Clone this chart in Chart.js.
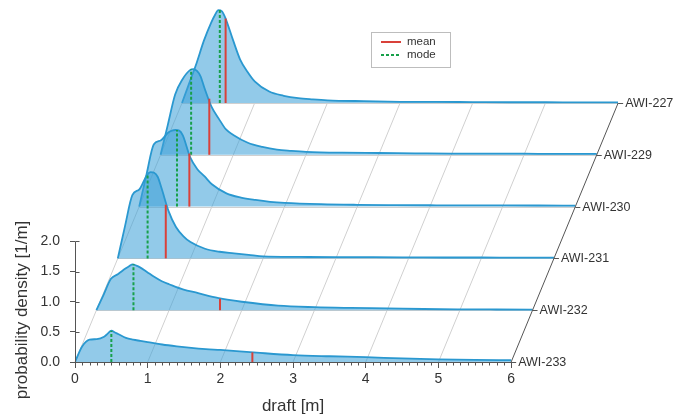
<!DOCTYPE html>
<html>
<head>
<meta charset="utf-8">
<title>Draft distributions</title>
<script src="https://cdn.jsdelivr.net/npm/chart.js@4.4.1/dist/chart.umd.min.js"></script>
<style>
  html, body { margin: 0; padding: 0; background: #fff; }
  #wrap { width: 673px; height: 420px; position: relative; }
</style>
</head>
<body>
<div id="wrap"><canvas id="draftChart"></canvas></div>
<script>
// draft grid [m] shared by all moorings
const DRAFT = [0, 0.1, 0.2, 0.3, 0.4, 0.45, 0.5, 0.55, 0.6, 0.7, 0.8, 0.9, 1.0, 1.2, 1.4, 1.6, 1.8, 2.0, 2.5, 3.0, 3.5, 4.0, 4.5, 5.0, 5.5, 6.0];

// probability density [1/m], front (AWI-233) to back (AWI-227)
const awi233 = [0, 0.26, 0.37, 0.38, 0.42, 0.47, 0.52, 0.49, 0.46, 0.40, 0.37, 0.35, 0.33, 0.29, 0.26, 0.235, 0.215, 0.20, 0.155, 0.115, 0.095, 0.08, 0.06, 0.045, 0.035, 0.03];
const awi232 = [0, 0.26, 0.52, 0.60, 0.69, 0.73, 0.76, 0.74, 0.71, 0.63, 0.55, 0.48, 0.43, 0.34, 0.285, 0.22, 0.175, 0.14, 0.075, 0.05, 0.038, 0.03, 0.02, 0.015, 0.012, 0.01];
const awi231 = [0, 0.54, 1.05, 1.15, 1.38, 1.43, 1.42, 1.35, 1.17, 0.78, 0.52, 0.37, 0.27, 0.16, 0.11, 0.085, 0.06, 0.035, 0.025, 0.02, 0.02, 0.018, 0.015, 0.015, 0.012, 0.012];
const awi230 = [0, 0.53, 1.03, 1.10, 1.23, 1.26, 1.27, 1.26, 1.18, 0.82, 0.62, 0.50, 0.37, 0.22, 0.15, 0.11, 0.08, 0.062, 0.04, 0.03, 0.025, 0.022, 0.02, 0.02, 0.018, 0.015];
const awi229 = [0, 0.50, 1.00, 1.25, 1.40, 1.42, 1.39, 1.30, 1.12, 0.80, 0.60, 0.42, 0.33, 0.20, 0.13, 0.085, 0.065, 0.05, 0.035, 0.03, 0.025, 0.02, 0.02, 0.018, 0.015, 0.015];
const awi227 = [0, 0.33, 0.66, 1.03, 1.33, 1.45, 1.54, 1.52, 1.40, 1.05, 0.72, 0.52, 0.36, 0.19, 0.12, 0.08, 0.06, 0.045, 0.03, 0.02, 0.018, 0.015, 0.012, 0.012, 0.01, 0.01];

const SERIES_NAMES = ['AWI-233', 'AWI-232', 'AWI-231', 'AWI-230', 'AWI-229', 'AWI-227'];
const SERIES_VALUES = [awi233, awi232, awi231, awi230, awi229, awi227];

// mean / mode draft [m] and the density where the marker line stops
const MEAN = [2.44, 1.70, 0.66, 0.69, 0.67, 0.60];
const MEAN_TOP = [0.16, 0.19, 0.89, 0.88, 0.93, 1.40];
const MODE = [0.50, 0.51, 0.41, 0.52, 0.42, 0.52];
const MODE_TOP = [0.52, 0.76, 1.39, 1.27, 1.42, 1.55];

const Y_TICKS = [0, 0.5, 1.0, 1.5, 2.0];
const X_TICKS = [0, 1, 2, 3, 4, 5, 6];

// oblique shift between consecutive moorings, in axis units
const DEPTH_DX = 0.2944;
const DEPTH_DY = 0.859;
const X_MAX = 7.47;
const Y_MAX = 5.92;

const FONT = '"Liberation Sans", Arial, sans-serif';
const FILL = 'rgba(60,160,215,0.56)';
const EDGE = '#2a98d0';
const RED = '#d9413a';
const GREEN = '#17a04a';

const datasets = [];
SERIES_VALUES.forEach((vals, k) => {
  const base = k * DEPTH_DY;
  const shift = k * DEPTH_DX;
  datasets.push({
    label: SERIES_NAMES[k],
    data: DRAFT.map((d, i) => ({ x: d + shift, y: vals[i] + base })),
    fill: { value: base },
    backgroundColor: FILL,
    borderColor: EDGE,
    borderWidth: 1.8,
    pointRadius: 0,
    cubicInterpolationMode: 'monotone',
    order: 10 * k + 5
  });
  datasets.push({
    label: 'mean',
    data: [{ x: MEAN[k] + shift, y: base }, { x: MEAN[k] + shift, y: MEAN_TOP[k] + base }],
    borderColor: RED,
    borderWidth: 2,
    pointRadius: 0,
    fill: false,
    order: 10 * k
  });
  datasets.push({
    label: 'mode',
    data: [{ x: MODE[k] + shift, y: base }, { x: MODE[k] + shift, y: MODE_TOP[k] + base }],
    borderColor: GREEN,
    borderWidth: 2,
    borderDash: [3, 2],
    pointRadius: 0,
    fill: false,
    order: 10 * k
  });
});

const last = SERIES_NAMES.length - 1;

const waterfallDecor = {
  id: 'waterfallDecor',
  beforeDatasetsDraw(chart) {
    const { ctx, scales: { x, y } } = chart;
    ctx.save();
    ctx.lineWidth = 1;
    ctx.strokeStyle = '#d0d0d0';
    // oblique grid lines
    for (let d = 0; d < 6; d++) {
      ctx.beginPath();
      ctx.moveTo(x.getPixelForValue(d), y.getPixelForValue(0));
      ctx.lineTo(x.getPixelForValue(d + last * DEPTH_DX), y.getPixelForValue(last * DEPTH_DY));
      ctx.stroke();
    }
    // baselines of the back panels
    for (let k = 1; k <= last; k++) {
      const py = Math.round(y.getPixelForValue(k * DEPTH_DY)) + 0.5;
      ctx.beginPath();
      ctx.moveTo(x.getPixelForValue(k * DEPTH_DX), py);
      ctx.lineTo(x.getPixelForValue(6 + k * DEPTH_DX), py);
      ctx.stroke();
    }
    ctx.restore();
  },
  afterDatasetsDraw(chart) {
    const { ctx, scales: { x, y } } = chart;
    ctx.save();
    ctx.strokeStyle = '#555';
    ctx.lineWidth = 1;
    const y0 = Math.round(y.getPixelForValue(0)) + 0.5;
    const x0 = Math.round(x.getPixelForValue(0)) + 0.5;

    // x axis line + minor ticks
    ctx.beginPath();
    ctx.moveTo(x0, y0);
    ctx.lineTo(x.getPixelForValue(6), y0);
    for (let i = 1; i < 60; i++) {
      if (i % 10 === 0) continue;
      const px = Math.round(x.getPixelForValue(i / 10)) + 0.5;
      ctx.moveTo(px, y0);
      ctx.lineTo(px, y0 + 3);
    }
    ctx.stroke();

    // y axis line (only 0..2) and right-hand tick stubs
    ctx.beginPath();
    ctx.moveTo(x0, y0);
    ctx.lineTo(x0, y.getPixelForValue(Y_TICKS[Y_TICKS.length - 1]));
    Y_TICKS.forEach(v => {
      const py = Math.round(y.getPixelForValue(v)) + 0.5;
      ctx.moveTo(x0, py);
      ctx.lineTo(x0 + 4, py);
    });
    ctx.stroke();

    // right depth edge with mooring labels
    ctx.beginPath();
    ctx.moveTo(x.getPixelForValue(6), y.getPixelForValue(0));
    ctx.lineTo(x.getPixelForValue(6 + last * DEPTH_DX), y.getPixelForValue(last * DEPTH_DY));
    ctx.stroke();
    ctx.font = '12.5px ' + FONT;
    ctx.fillStyle = '#333';
    ctx.textBaseline = 'middle';
    ctx.textAlign = 'left';
    SERIES_NAMES.forEach((name, k) => {
      const px = x.getPixelForValue(6 + k * DEPTH_DX);
      const py = y.getPixelForValue(k * DEPTH_DY);
      ctx.beginPath();
      ctx.moveTo(px, Math.round(py) + 0.5);
      ctx.lineTo(px + 5, Math.round(py) + 0.5);
      ctx.stroke();
      ctx.fillText(name, px + 7, py + 0.5);
    });

    // axis titles
    ctx.fillStyle = '#333';
    ctx.font = '17px ' + FONT;
    ctx.textAlign = 'center';
    ctx.textBaseline = 'middle';
    ctx.fillText('draft [m]', x.getPixelForValue(3), 406);
    ctx.save();
    ctx.translate(22, 310);
    ctx.rotate(-Math.PI / 2);
    ctx.fillText('probability density [1/m]', 0, 0);
    ctx.restore();

    // legend
    ctx.fillStyle = '#fff';
    ctx.fillRect(371, 32, 79, 35);
    ctx.strokeStyle = '#bdbdbd';
    ctx.strokeRect(371.5, 32.5, 79, 35);
    ctx.lineWidth = 2;
    ctx.strokeStyle = RED;
    ctx.beginPath();
    ctx.moveTo(381, 42);
    ctx.lineTo(401, 42);
    ctx.stroke();
    ctx.strokeStyle = GREEN;
    ctx.setLineDash([3, 2]);
    ctx.beginPath();
    ctx.moveTo(381, 55);
    ctx.lineTo(401, 55);
    ctx.stroke();
    ctx.setLineDash([]);
    ctx.fillStyle = '#333';
    ctx.font = '11.5px ' + FONT;
    ctx.textAlign = 'left';
    ctx.fillText('mean', 407, 42);
    ctx.fillText('mode', 407, 55);
    ctx.restore();
  }
};

new Chart(document.getElementById('draftChart'), {
  type: 'line',
  data: { datasets: datasets },
  options: {
    responsive: true,
    maintainAspectRatio: false,
    animation: false,
    layout: { padding: { top: 5, right: 55, bottom: 0, left: 0 } },
    plugins: {
      legend: { display: false },
      tooltip: { enabled: false }
    },
    scales: {
      x: {
        type: 'linear',
        min: 0,
        max: X_MAX,
        afterBuildTicks: s => { s.ticks = X_TICKS.map(v => ({ value: v })); },
        afterFit: s => { s.height = 58; s.paddingLeft = 0; s.paddingRight = 0; },
        border: { display: false },
        grid: { drawOnChartArea: false, tickLength: 6, tickColor: '#555' },
        ticks: {
          autoSkip: false,
          maxRotation: 0,
          padding: 3,
          color: '#333',
          font: { family: FONT, size: 14 },
          callback: v => String(v)
        }
      },
      y: {
        type: 'linear',
        min: 0,
        max: Y_MAX,
        afterBuildTicks: s => { s.ticks = Y_TICKS.map(v => ({ value: v })); },
        afterFit: s => { s.width = 75; s.paddingTop = 0; s.paddingBottom = 0; },
        border: { display: false },
        grid: { drawOnChartArea: false, tickLength: 5, tickColor: '#555' },
        ticks: {
          padding: 10,
          color: '#333',
          font: { family: FONT, size: 14 },
          callback: v => v.toFixed(1)
        }
      }
    }
  },
  plugins: [waterfallDecor]
});
</script>
</body>
</html>
